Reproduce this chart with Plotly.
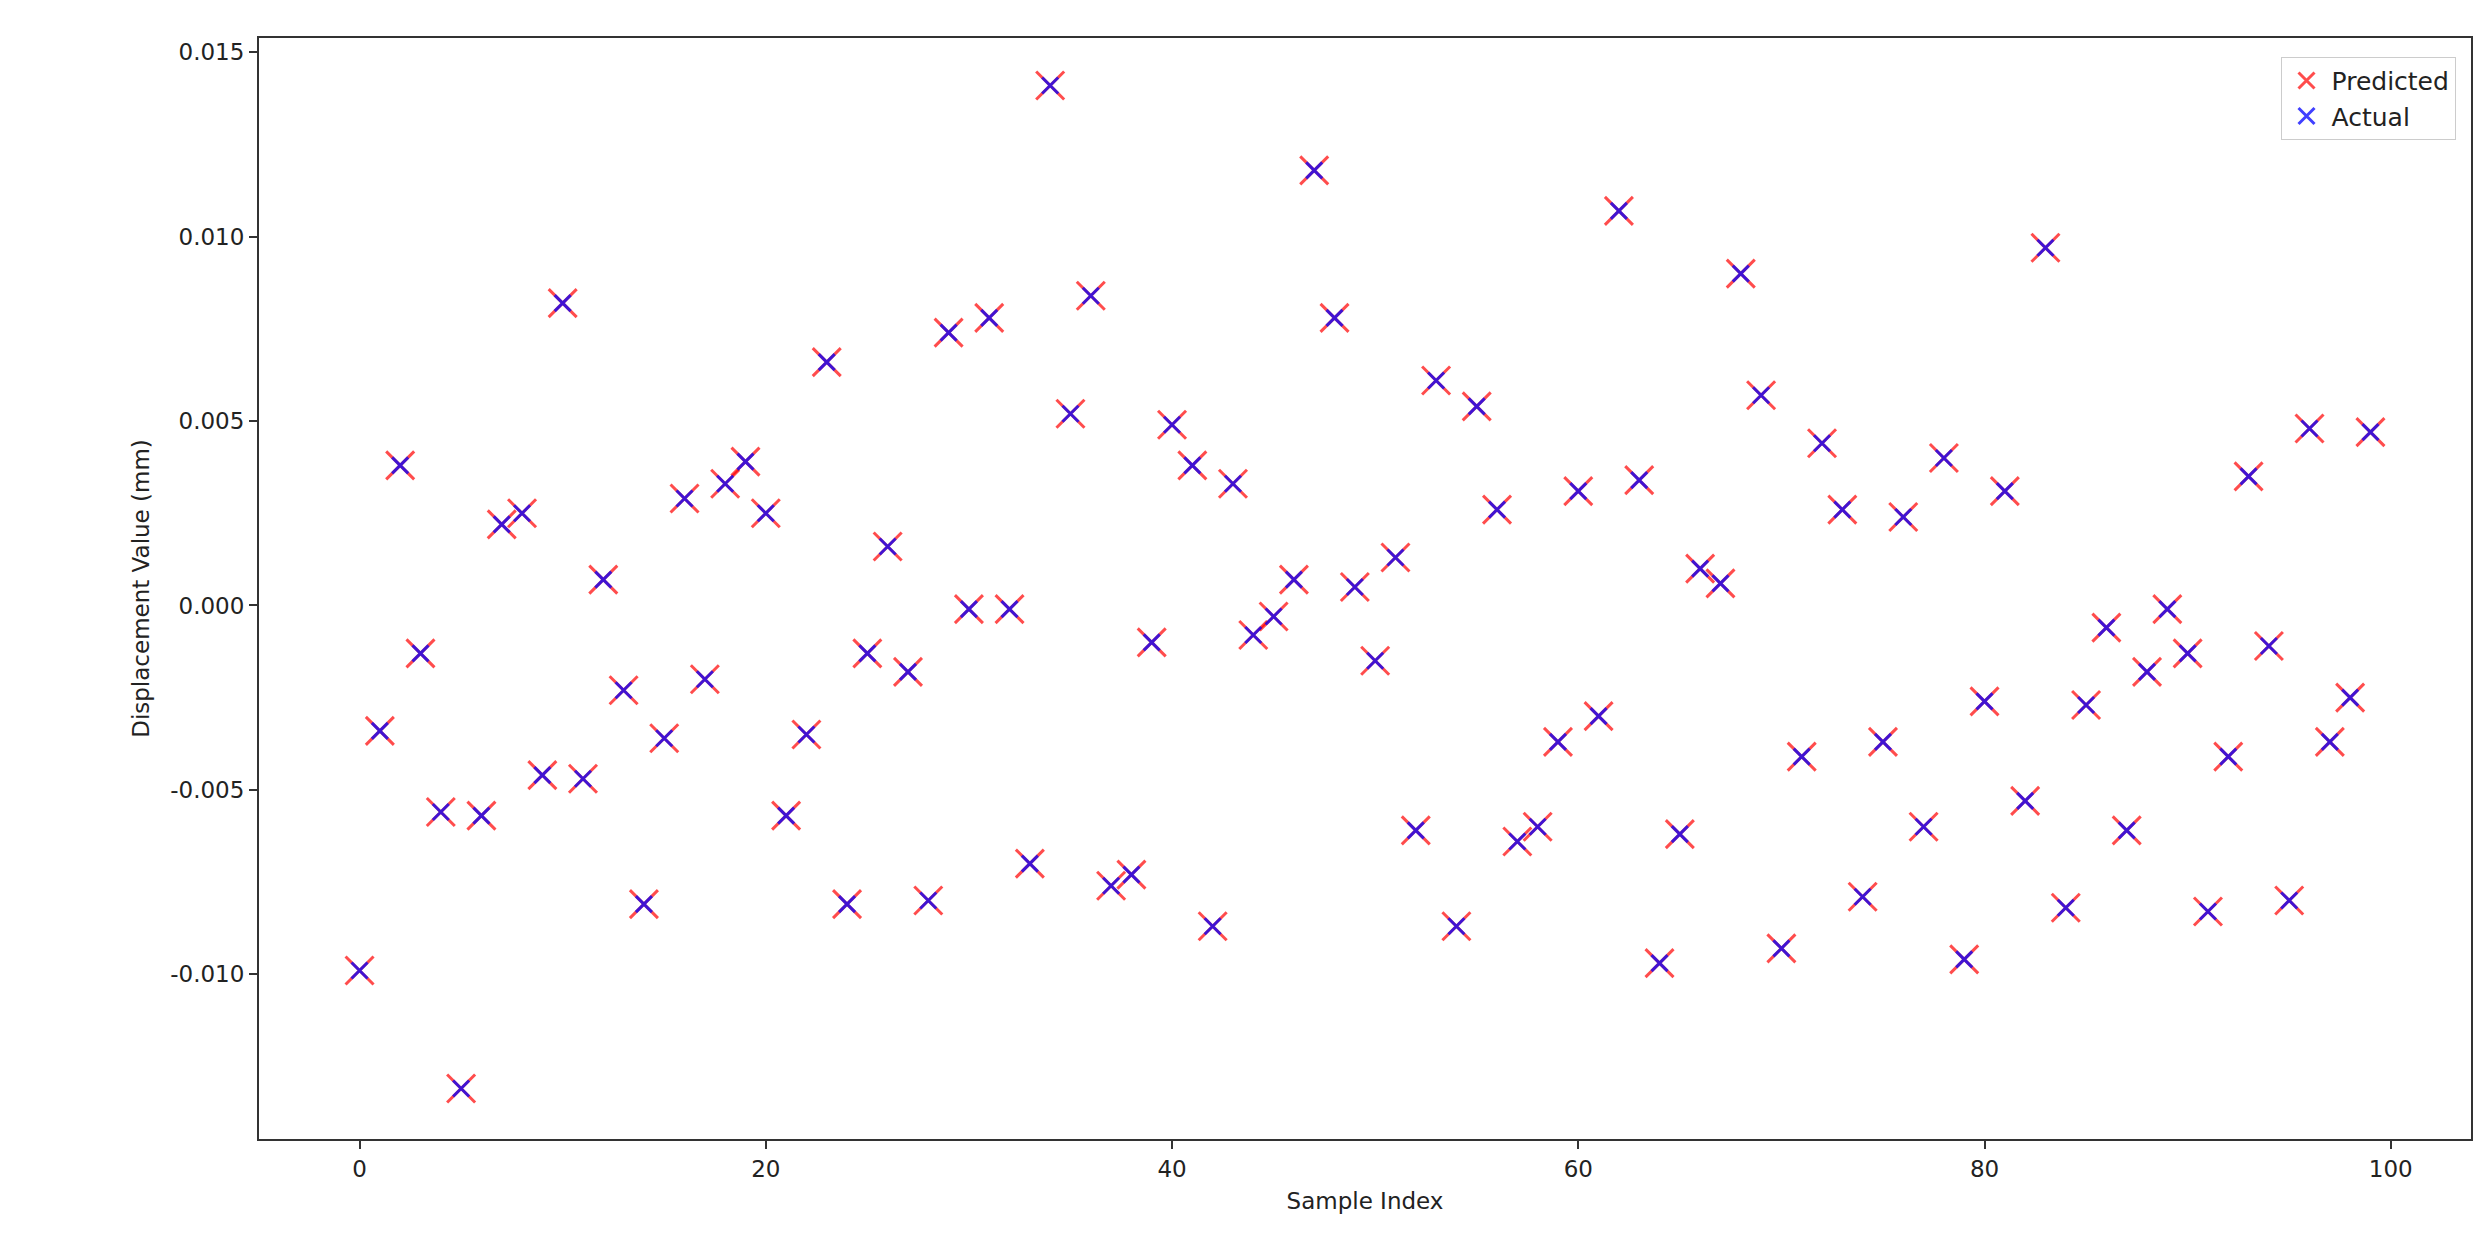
import plotly.graph_objects as go

idx = list(range(100))
actual = [-0.0099,-0.0034,0.0038,-0.0013,-0.0056,-0.0131,-0.0057,0.0022,0.0025,-0.0046,
          0.0082,-0.0047,0.0007,-0.0023,-0.0081,-0.0036,0.0029,-0.0020,0.0033,0.0039,
          0.0025,-0.0057,-0.0035,0.0066,-0.0081,-0.0013,0.0016,-0.0018,-0.0080,0.0074,
          -0.0001,0.0078,-0.0001,-0.0070,0.0141,0.0052,0.0084,-0.0076,-0.0073,-0.0010,
          0.0049,0.0038,-0.0087,0.0033,-0.0008,-0.0003,0.0007,0.0118,0.0078,0.0005,
          -0.0015,0.0013,-0.0061,0.0061,-0.0087,0.0054,0.0026,-0.0064,-0.0060,-0.0037,
          0.0031,-0.0030,0.0107,0.0034,-0.0097,-0.0062,0.0010,0.0006,0.0090,0.0057,
          -0.0093,-0.0041,0.0044,0.0026,-0.0079,-0.0037,0.0024,-0.0060,0.0040,-0.0096,
          -0.0026,0.0031,-0.0053,0.0097,-0.0082,-0.0027,-0.0006,-0.0061,-0.0018,-0.0001,
          -0.0013,-0.0083,-0.0041,0.0035,-0.0011,-0.0080,0.0048,-0.0037,-0.0025,0.0047]
predicted = list(actual)

xticks = [0, 20, 40, 60, 80, 100]
yticks = [-0.010, -0.005, 0.0, 0.005, 0.010, 0.015]

fig = go.Figure()
fig.add_trace(go.Scatter(x=idx, y=predicted, mode="markers", name="Predicted",
    marker=dict(symbol="x-thin", size=28, color="rgba(255,0,0,0.7)",
                line=dict(width=3, color="rgba(255,0,0,0.7)"))))
fig.add_trace(go.Scatter(x=idx, y=actual, mode="markers", name="Actual",
    marker=dict(symbol="x-thin", size=16, color="rgba(0,0,255,0.75)",
                line=dict(width=3, color="rgba(0,0,255,0.75)"))))

axis_common = dict(showgrid=False, zeroline=False, showline=True, linecolor="#333",
                   linewidth=2, mirror=True, ticks="outside", ticklen=8, tickwidth=2,
                   tickcolor="#333", tickfont=dict(size=23, color="#222"))
fig.update_layout(
    width=2491, height=1255, plot_bgcolor="white", paper_bgcolor="white",
    font=dict(family="DejaVu Sans", size=23, color="#222"),
    margin=dict(l=251, r=28, t=30, b=124),
    xaxis=dict(range=[-4.95, 103.95], tickvals=xticks, ticktext=[str(t) for t in xticks],
               title=dict(text="Sample Index", font=dict(size=23), standoff=12), **axis_common),
    yaxis=dict(range=[-0.01447, 0.01539], tickvals=yticks,
               ticktext=[f"{t:.3f}" for t in yticks],
               title=dict(text="Displacement Value (mm)", font=dict(size=23), standoff=14), **axis_common),
    legend=dict(x=0.993, y=0.983, xanchor="right", yanchor="top", bordercolor="#ccc",
                borderwidth=1, bgcolor="rgba(255,255,255,0.8)", font=dict(size=25),
                itemwidth=40),
)
fig.write_html("out.html")
